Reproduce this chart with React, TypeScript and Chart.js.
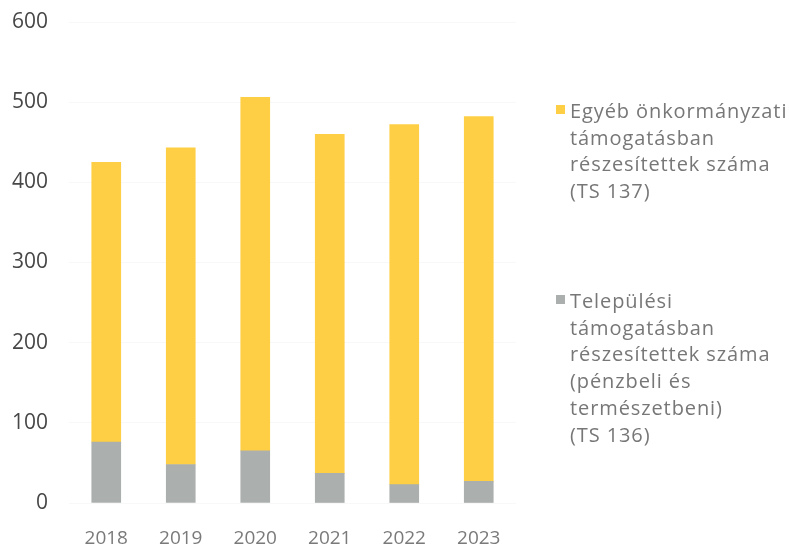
import React, { useEffect, useRef } from "react";
import { Chart, registerables } from "chart.js";

Chart.register(...registerables);

const years = ["2018", "2019", "2020", "2021", "2022", "2023"];
const telepulesi = [76, 48, 65, 37, 23, 27];
const egyeb = [349, 395, 441, 423, 449, 455];
const yTicks = [0, 100, 200, 300, 400, 500, 600];

const labelEgyeb = ["Egyéb önkormányzati", "támogatásban", "részesítettek száma", "(TS 137)"];
const labelTelepulesi = [
  "Települési",
  "támogatásban",
  "részesítettek száma",
  "(pénzbeli és",
  "természetbeni)",
  "(TS 136)",
];

const YELLOW = "#FECF45";
const GRAY = "#ABB0AE";
const FONT = "'Open Sans', 'DejaVu Sans', sans-serif";

function LegendItem({ color, lines, top }: { color: string; lines: string[]; top: number }) {
  return (
    <div style={{ position: "absolute", left: 0, top, width: 789 }}>
      <div
        style={{
          position: "absolute",
          left: 556,
          top: 7,
          width: 9,
          height: 9,
          background: color,
        }}
      />
      <div
        style={{
          position: "absolute",
          left: 570,
          top: 0,
          fontFamily: FONT,
          fontSize: 20,
          lineHeight: "26.7px",
          letterSpacing: "0.9px",
          color: "#777777",
          whiteSpace: "nowrap",
        }}
      >
        {lines.map((l, i) => (
          <div key={i}>{l}</div>
        ))}
      </div>
    </div>
  );
}

export default function App() {
  const ref = useRef<HTMLCanvasElement | null>(null);

  useEffect(() => {
    if (!ref.current) return;
    const chart = new Chart(ref.current, {
      type: "bar",
      data: {
        labels: years,
        datasets: [
          {
            label: labelTelepulesi.join(" "),
            data: telepulesi,
            backgroundColor: GRAY,
            barThickness: 29,
            stack: "s",
          },
          {
            label: labelEgyeb.join(" "),
            data: egyeb,
            backgroundColor: YELLOW,
            barThickness: 29,
            stack: "s",
          },
        ],
      },
      options: {
        animation: false,
        responsive: false,
        maintainAspectRatio: false,
        layout: { padding: { left: 0, right: 273, top: 22, bottom: 0 } },
        plugins: { legend: { display: false }, tooltip: { enabled: false } },
        scales: {
          x: {
            stacked: true,
            grid: { display: false, drawTicks: false },
            border: { display: false },
            ticks: {
              color: "#7a7a7a",
              font: { family: FONT, size: 19 },
              padding: 24,
              maxRotation: 0,
            },
            afterFit: (s: any) => {
              s.height = 44;
              s.paddingLeft = 0;
              s.paddingRight = 0;
            },
          },
          y: {
            stacked: true,
            min: 0,
            max: 600,
            afterBuildTicks: (s: any) => {
              s.ticks = yTicks.map((v) => ({ value: v }));
            },
            grid: { color: "#f8f8f8", drawTicks: false },
            border: { display: false },
            ticks: {
              color: "#474747",
              font: { family: FONT, size: 21 },
              padding: 21,
            },
            afterFit: (s: any) => {
              s.width = 69;
              s.paddingTop = 0;
              s.paddingBottom = 0;
            },
          },
        },
      },
    });
    return () => chart.destroy();
  }, []);

  return (
    <div style={{ position: "absolute", left: 0, top: 0, width: 789, height: 547, background: "#fff", overflow: "hidden" }}>
      <canvas ref={ref} width={789} height={547} style={{ display: "block" }} />
      <LegendItem color={YELLOW} lines={labelEgyeb} top={98} />
      <LegendItem color={GRAY} lines={labelTelepulesi} top={288} />
    </div>
  );
}
